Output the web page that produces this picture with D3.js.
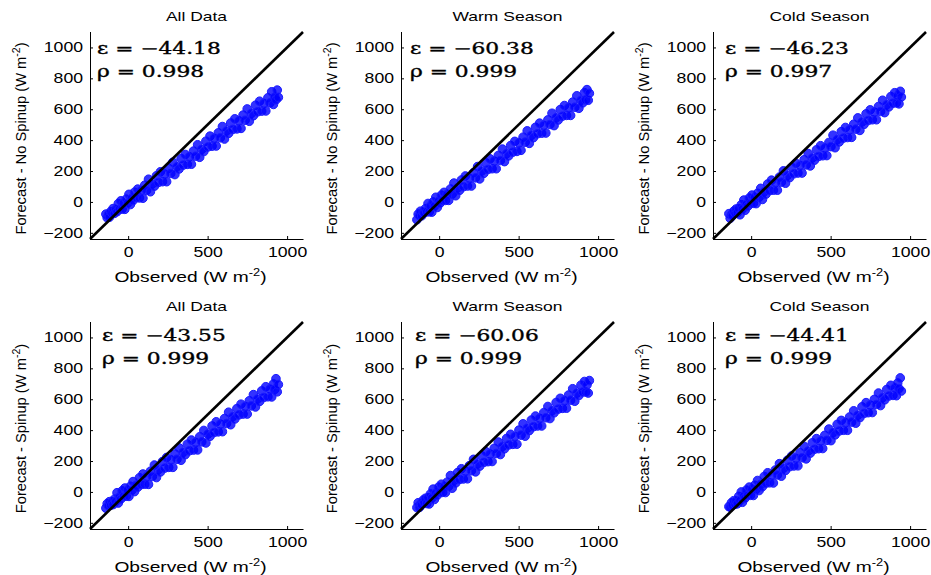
<!DOCTYPE html>
<html>
<head>
<meta charset="utf-8">
<script src="https://cdn.jsdelivr.net/npm/d3@7"></script>
<style>
  html, body { margin: 0; padding: 0; background: #fff; }
  svg { display: block; }
</style>
</head>
<body>
<script>
// ---------------- DATA ----------------
const panelTitles = ["All Data", "Warm Season", "Cold Season"];
const rowYLabels = ["Forecast - No Spinup", "Forecast - Spinup"];
const xLabelText = "Observed";
const xTicks = [0, 500, 1000];
const yTicks = [-200, 0, 200, 400, 600, 800, 1000];
const axisLimits = [-240, 1100];

const epsValues = [[-44.18, -60.38, -46.23], [-43.55, -60.06, -44.41]];
const rhoValues = [[0.998, 0.999, 0.997], [0.999, 0.999, 0.999]];

const obsValues = [-140,-132,-124,-118,-110,-101,-95,-87,-78,-70,-62,-55,-46,-38,-30,-21,-12,-4,5,14,22,31,40,50,60,71,82,93,104,116,128,140,152,165,178,190,203,216,229,242,255,268,281,294,307,320,333,346,359,372,385,398,411,424,437,450,463,476,489,502,515,528,541,554,567,580,593,606,619,632,645,658,671,684,697,710,723,736,749,762,775,788,801,814,827,840,853,866,879,892,903,914,922,930,938,945];

const fcstAllNoSpinup = [-79,-102,-80,-99,-63,-73,-43,-74,-49,-63,-11,-48,7,-46,-9,-48,18,-9,49,-17,23,9,63,28,83,26,74,24,108,75,147,66,116,102,169,126,195,131,180,131,217,184,257,177,228,213,281,238,307,243,292,244,329,296,370,289,340,326,393,356,426,361,411,362,447,415,488,407,459,444,511,469,538,473,525,476,562,529,602,522,573,558,626,583,652,588,637,589,674,641,713,631,679,661,724,677];
const fcstWarmNoSpinup = [-115,-79,-89,-60,-90,-67,-72,-44,-64,-10,-64,-27,-66,0,-28,30,-36,4,-9,44,8,62,10,49,10,84,50,122,40,91,75,142,98,168,103,152,103,189,156,229,149,200,185,253,210,279,215,264,215,301,268,342,261,312,298,365,322,392,327,382,334,419,387,460,379,431,416,483,441,510,445,495,446,531,501,574,494,545,530,598,555,624,560,609,560,646,613,687,606,657,641,707,661,727,658,703];
const fcstColdNoSpinup = [-76,-106,-83,-89,-60,-74,-46,-70,-43,-83,-18,-46,12,-54,-15,-28,25,-11,44,-9,29,-11,56,30,88,16,66,50,116,73,141,76,124,76,161,128,201,121,172,157,225,182,251,187,236,187,273,240,313,233,284,270,337,294,364,299,348,300,385,358,432,351,403,388,455,413,482,417,467,418,503,471,544,463,517,502,570,527,596,532,581,532,618,585,658,578,629,615,682,639,707,641,687,635,716,679];
const fcstAllSpinup = [-105,-76,-90,-63,-86,-64,-82,-47,-62,-5,-72,-33,-46,7,-30,25,-28,10,-29,37,10,67,2,43,30,92,48,116,50,99,49,134,100,174,93,144,129,197,154,223,159,208,159,245,212,285,205,256,241,309,266,336,271,320,272,357,324,398,317,374,360,427,385,454,389,439,390,475,443,516,435,487,472,539,499,568,504,553,504,590,557,630,550,601,586,654,611,681,616,665,615,699,663,733,648,695];
const fcstWarmSpinup = [-101,-70,-100,-79,-83,-54,-69,-41,-75,-37,-78,-13,-39,18,-49,-8,-22,31,-4,50,-3,35,-4,63,37,106,24,74,58,125,81,150,84,134,85,170,137,211,130,181,167,234,191,261,196,245,197,282,249,323,242,294,279,346,304,373,308,358,309,400,368,441,361,412,397,465,422,491,427,476,427,513,480,553,475,526,512,579,536,606,541,590,542,627,594,668,587,639,624,691,647,715,647,693,640,721];
const fcstColdSpinup = [-95,-99,-70,-86,-57,-80,-59,-77,-29,-56,0,-67,-26,-40,12,-23,31,-22,17,-23,43,16,74,9,50,34,100,56,124,59,107,58,142,110,183,102,153,139,206,163,233,168,217,169,254,221,295,214,265,251,318,276,345,280,330,281,366,334,407,332,384,369,437,394,463,399,448,399,485,452,525,445,496,481,551,508,578,513,562,514,599,566,640,559,610,596,663,621,690,625,673,623,705,669,738,653];

const forecastSeries = [
  [fcstAllNoSpinup, fcstWarmNoSpinup, fcstColdNoSpinup],
  [fcstAllSpinup, fcstWarmSpinup, fcstColdSpinup]
];

// ---------------- LAYOUT / STYLE ----------------
const W = 931, H = 575;
const colLeft = [90, 401, 713];
const rowTop = [32, 322];
const plotW = 213, plotH = 207;
const statOffsets = [[[7, 22], [9, 22], [12, 22]], [[12, 19], [14, 19], [12, 19]]];
const sansFont = "'Liberation Sans', Arial, Helvetica, sans-serif";
const serifFont = "'DejaVu Serif', 'Liberation Serif', serif";

const svg = d3.select("body").append("svg")
  .attr("width", W).attr("height", H)
  .style("background", "#fff");

function addText(g, x, y, sx, opts) {
  return g.append("text")
    .attr("transform", `translate(${x},${y}) scale(${sx},1)`)
    .attr("font-family", opts.family || sansFont)
    .attr("font-size", opts.size)
    .attr("text-anchor", opts.anchor || "start")
    .attr("fill", "#000");
}

for (let r = 0; r < 2; r++) {
  for (let c = 0; c < 3; c++) {
    const x0 = colLeft[c], y0 = rowTop[r];
    const xs = d3.scaleLinear().domain(axisLimits).range([x0, x0 + plotW]);
    const ys = d3.scaleLinear().domain(axisLimits).range([y0 + plotH, y0]);
    const g = svg.append("g");
    const fc = forecastSeries[r][c];
    const n = Math.min(obsValues.length, fc.length);
    const pts = obsValues.slice(0, n).map((o, i) => [o, fc[i]]);

    // scatter
    g.append("g").selectAll("circle").data(pts).join("circle")
      .attr("cx", d => xs(d[0])).attr("cy", d => ys(d[1]))
      .attr("r", 4.3)
      .attr("fill", "rgba(0,0,255,0.8)")
      .attr("stroke", "#1a1aff")
      .attr("stroke-width", 1);

    // 1:1 line
    g.append("line")
      .attr("x1", xs(axisLimits[0])).attr("y1", ys(axisLimits[0]))
      .attr("x2", xs(axisLimits[1])).attr("y2", ys(axisLimits[1]))
      .attr("stroke", "#000").attr("stroke-width", 2.6);

    // axes
    const xAxis = d3.axisBottom(xs).tickValues(xTicks).tickSize(-3).tickPadding(8).tickFormat(d3.format("d"));
    const yAxis = d3.axisLeft(ys).tickValues(yTicks).tickSize(-3).tickPadding(7).tickFormat(d3.format("d"));
    const gx = g.append("g").attr("transform", `translate(0,${y0 + plotH})`).call(xAxis);
    const gy = g.append("g").attr("transform", `translate(${x0},0)`).call(yAxis);
    gx.select(".domain").remove();
    gy.select(".domain").remove();
    [gx, gy].forEach(ax => ax.selectAll(".tick line").attr("stroke", "#000"));
    g.append("line").attr("x1", x0).attr("x2", x0 + plotW + 0.5)
      .attr("y1", y0 + plotH + 0.5).attr("y2", y0 + plotH + 0.5).attr("stroke", "#000");
    g.append("line").attr("x1", x0 + 0.5).attr("x2", x0 + 0.5)
      .attr("y1", y0).attr("y2", y0 + plotH + 0.5).attr("stroke", "#000");

    gx.selectAll(".tick text")
      .attr("font-family", sansFont).attr("font-size", 14).attr("fill", "#000")
      .attr("dy", "0.71em")
      .attr("transform", function () {
        const yy = +d3.select(this).attr("y");
        return `translate(0,${yy}) scale(1.26,1) translate(0,${-yy})`;
      });
    gy.selectAll(".tick text")
      .attr("font-family", sansFont).attr("font-size", 14).attr("fill", "#000")
      .attr("transform", function () {
        const xx = +d3.select(this).attr("x");
        return `translate(${xx},0) scale(1.26,1) translate(${-xx},0)`;
      });

    // title
    addText(g, x0 + plotW / 2, y0 - 11, 1.4, { size: 12.5, anchor: "middle" }).text(panelTitles[c]);

    // x label
    const xl = addText(g, x0 + plotW / 2 - 6, y0 + plotH + 43, 1.28, { size: 15, anchor: "middle" });
    xl.append("tspan").text(xLabelText + " (W m");
    xl.append("tspan").attr("font-size", 10).attr("dy", -6).text("-2");
    xl.append("tspan").attr("dy", 6).text(")");

    // y label
    const yl = g.append("text")
      .attr("transform", `translate(${x0 - 64},${y0 + plotH / 2 + 3}) rotate(-90) scale(1.05,1)`)
      .attr("font-family", sansFont).attr("font-size", 14)
      .attr("text-anchor", "middle").attr("fill", "#000");
    yl.append("tspan").text(rowYLabels[r] + " (W m");
    yl.append("tspan").attr("font-size", 10).attr("dy", -6).text("-2");
    yl.append("tspan").attr("dy", 6).text(")");

    // stats
    const so = statOffsets[r][c];
    const epsStr = "\u03B5 = " + (epsValues[r][c] < 0 ? "\u2212" : "") + Math.abs(epsValues[r][c]).toFixed(2);
    addText(g, x0 + so[0], y0 + so[1], 1.36, { size: 16, family: serifFont })
      .attr("stroke", "#000").attr("stroke-width", 0.35).text(epsStr);
    addText(g, x0 + so[0], y0 + so[1] + 23, 1.36, { size: 16, family: serifFont })
      .attr("stroke", "#000").attr("stroke-width", 0.35)
      .text("\u03C1 = " + rhoValues[r][c].toFixed(3));
  }
}
</script>
</body>
</html>
